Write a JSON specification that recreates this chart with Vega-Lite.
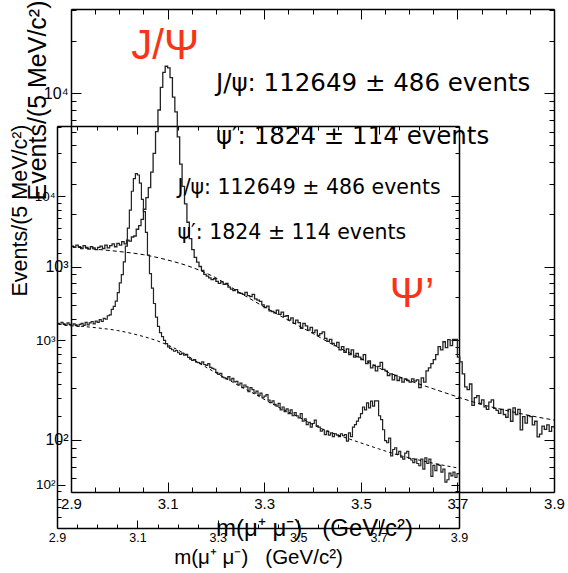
{
"$schema": "https://vega.github.io/schema/vega-lite/v6.json",
"width": 568, "height": 573, "autosize": "none", "padding": 0, "background": "white",
"config": {"view": {"stroke": null}, "axis": {"grid": false, "labelFont": "Liberation Sans", "titleFont": "Liberation Sans", "labelColor": "#000", "titleColor": "#000", "titleFontWeight": "normal", "domainColor": "#000", "tickColor": "#000", "labelFlush": false, "labelOverlap": false, "labelBound": false}},
"datasets": {
"h": [{"m":2.9,"n":1310},{"m":2.905,"n":1290},{"m":2.91,"n":1330},{"m":2.915,"n":1300},{"m":2.92,"n":1270},{"m":2.925,"n":1320},{"m":2.93,"n":1290},{"m":2.935,"n":1260},{"m":2.94,"n":1300},{"m":2.945,"n":1280},{"m":2.95,"n":1250},{"m":2.955,"n":1290},{"m":2.96,"n":1310},{"m":2.965,"n":1270},{"m":2.97,"n":1330},{"m":2.975,"n":1280},{"m":2.98,"n":1320},{"m":2.985,"n":1350},{"m":2.99,"n":1300},{"m":2.995,"n":1360},{"m":3.0,"n":1330},{"m":3.005,"n":1390},{"m":3.01,"n":1350},{"m":3.015,"n":1420},{"m":3.02,"n":1400},{"m":3.025,"n":1480},{"m":3.03,"n":1500},{"m":3.035,"n":1640},{"m":3.04,"n":1720},{"m":3.045,"n":1870},{"m":3.05,"n":2140},{"m":3.055,"n":2500},{"m":3.06,"n":2850},{"m":3.065,"n":3500},{"m":3.07,"n":4500},{"m":3.075,"n":6000},{"m":3.08,"n":8000},{"m":3.085,"n":10800},{"m":3.09,"n":13200},{"m":3.095,"n":14300},{"m":3.1,"n":14000},{"m":3.105,"n":12300},{"m":3.11,"n":9500},{"m":3.115,"n":7800},{"m":3.12,"n":5600},{"m":3.125,"n":3900},{"m":3.13,"n":2900},{"m":3.135,"n":2300},{"m":3.14,"n":1800},{"m":3.145,"n":1450},{"m":3.15,"n":1250},{"m":3.155,"n":1130},{"m":3.16,"n":1060},{"m":3.165,"n":1000},{"m":3.17,"n":950},{"m":3.175,"n":900},{"m":3.18,"n":880},{"m":3.185,"n":860},{"m":3.19,"n":840},{"m":3.195,"n":850},{"m":3.2,"n":820},{"m":3.205,"n":800},{"m":3.21,"n":815},{"m":3.215,"n":790},{"m":3.22,"n":800},{"m":3.225,"n":760},{"m":3.23,"n":740},{"m":3.235,"n":725},{"m":3.24,"n":735},{"m":3.245,"n":705},{"m":3.25,"n":700},{"m":3.255,"n":690},{"m":3.26,"n":710},{"m":3.265,"n":680},{"m":3.27,"n":670},{"m":3.275,"n":690},{"m":3.28,"n":650},{"m":3.285,"n":640},{"m":3.29,"n":630},{"m":3.295,"n":600},{"m":3.3,"n":580},{"m":3.305,"n":590},{"m":3.31,"n":555},{"m":3.315,"n":550},{"m":3.32,"n":540},{"m":3.325,"n":560},{"m":3.33,"n":530},{"m":3.335,"n":545},{"m":3.34,"n":515},{"m":3.345,"n":520},{"m":3.35,"n":490},{"m":3.355,"n":505},{"m":3.36,"n":470},{"m":3.365,"n":490},{"m":3.37,"n":475},{"m":3.375,"n":440},{"m":3.38,"n":470},{"m":3.385,"n":455},{"m":3.39,"n":430},{"m":3.395,"n":445},{"m":3.4,"n":415},{"m":3.405,"n":430},{"m":3.41,"n":400},{"m":3.415,"n":410},{"m":3.42,"n":420},{"m":3.425,"n":385},{"m":3.43,"n":370},{"m":3.435,"n":380},{"m":3.44,"n":360},{"m":3.445,"n":350},{"m":3.45,"n":365},{"m":3.455,"n":330},{"m":3.46,"n":345},{"m":3.465,"n":320},{"m":3.47,"n":335},{"m":3.475,"n":310},{"m":3.48,"n":330},{"m":3.485,"n":300},{"m":3.49,"n":315},{"m":3.495,"n":300},{"m":3.5,"n":290},{"m":3.505,"n":310},{"m":3.51,"n":275},{"m":3.515,"n":285},{"m":3.52,"n":260},{"m":3.525,"n":270},{"m":3.53,"n":250},{"m":3.535,"n":265},{"m":3.54,"n":280},{"m":3.545,"n":255},{"m":3.55,"n":250},{"m":3.555,"n":235},{"m":3.56,"n":240},{"m":3.565,"n":222},{"m":3.57,"n":235},{"m":3.575,"n":220},{"m":3.58,"n":228},{"m":3.585,"n":215},{"m":3.59,"n":225},{"m":3.595,"n":220},{"m":3.6,"n":215},{"m":3.605,"n":225},{"m":3.61,"n":218},{"m":3.615,"n":222},{"m":3.62,"n":200},{"m":3.625,"n":228},{"m":3.63,"n":215},{"m":3.635,"n":250},{"m":3.64,"n":260},{"m":3.645,"n":275},{"m":3.65,"n":290},{"m":3.655,"n":310},{"m":3.66,"n":345},{"m":3.665,"n":330},{"m":3.67,"n":368},{"m":3.675,"n":340},{"m":3.68,"n":379},{"m":3.685,"n":350},{"m":3.69,"n":380},{"m":3.695,"n":380},{"m":3.7,"n":300},{"m":3.705,"n":282},{"m":3.71,"n":240},{"m":3.715,"n":202},{"m":3.72,"n":195},{"m":3.725,"n":210},{"m":3.73,"n":158},{"m":3.735,"n":175},{"m":3.74,"n":180},{"m":3.745,"n":162},{"m":3.75,"n":170},{"m":3.755,"n":155},{"m":3.76,"n":150},{"m":3.765,"n":165},{"m":3.77,"n":170},{"m":3.775,"n":152},{"m":3.78,"n":148},{"m":3.785,"n":142},{"m":3.79,"n":150},{"m":3.795,"n":140},{"m":3.8,"n":135},{"m":3.805,"n":150},{"m":3.81,"n":128},{"m":3.815,"n":153},{"m":3.82,"n":140},{"m":3.825,"n":150},{"m":3.83,"n":114},{"m":3.835,"n":136},{"m":3.84,"n":125},{"m":3.845,"n":138},{"m":3.85,"n":136},{"m":3.855,"n":122},{"m":3.86,"n":128},{"m":3.865,"n":104},{"m":3.87,"n":108},{"m":3.875,"n":120},{"m":3.88,"n":115},{"m":3.885,"n":122},{"m":3.89,"n":112},{"m":3.895,"n":119},{"m":3.9,"n":119}],
"bg": [{"m":2.9,"n":1306},{"m":2.95,"n":1260},{"m":3.0,"n":1220},{"m":3.05,"n":1170},{"m":3.1,"n":1090},{"m":3.15,"n":990},{"m":3.2,"n":860},{"m":3.25,"n":705},{"m":3.3,"n":585},{"m":3.35,"n":490},{"m":3.4,"n":412},{"m":3.45,"n":345},{"m":3.5,"n":295},{"m":3.55,"n":250},{"m":3.6,"n":220},{"m":3.65,"n":197},{"m":3.7,"n":177},{"m":3.75,"n":160},{"m":3.8,"n":148},{"m":3.85,"n":138},{"m":3.9,"n":130}],
"txt": [{"m":3.2,"n":11300,"t":"J/ψ: 112649 ± 486 events"},{"m":3.2,"n":5570,"t":"ψ′: 1824 ± 114 events"}],
"red": [{"m":3.095,"n":18600,"t":"J/Ψ"},{"m":3.606,"n":690,"t":"Ψ’"}]
},
"layer": [
{
"layer": [
{"data": {"name": "h"}, "mark": {"type": "line", "interpolate": "step-after", "color": "#222", "strokeWidth": 1.3},
 "encoding": {
  "x": {"field": "m", "type": "quantitative", "scale": {"domain": [2.9, 3.9], "range": [71, 554], "nice": false, "zero": false},
   "axis": {"orient": "bottom", "offset": -81, "values": [2.9,2.95,3.0,3.05,3.1,3.15,3.2,3.25,3.3,3.35,3.4,3.45,3.5,3.55,3.6,3.65,3.7,3.75,3.8,3.85,3.9],
    "labelExpr": "(round(datum.value*100)-290)%20==0 ? format(datum.value,'.1f') : ''",
    "tickSize": {"condition": {"test": "(round(datum.value*100)-290)%20==0", "value": -10}, "value": -5},
    "labelPadding": 14, "labelFontSize": 15, "domainWidth": 1.5, "tickWidth": 1,
    "title": "m(μ⁺ μ⁻)\u00a0\u00a0\u00a0(GeV/c²)", "titleFontSize": 24, "titleX": 314, "titleY": 36, "titleBaseline": "middle"}},
  "y": {"field": "n", "type": "quantitative", "scale": {"type": "log", "domain": [50, 30600], "range": [492, 9], "nice": false},
   "axis": {"orient": "left", "offset": -71, "values": [60,70,80,90,100,200,300,400,500,600,700,800,900,1000,2000,3000,4000,5000,6000,7000,8000,9000,10000,20000,30000],
    "labelExpr": "datum.value==100 ? '10²' : datum.value==1000 ? '10³' : datum.value==10000 ? '10⁴' : ''",
    "tickSize": {"condition": {"test": "datum.value==100||datum.value==1000||datum.value==10000", "value": -10}, "value": -5},
    "labelPadding": 13, "labelFontSize": 16, "domainWidth": 1.5, "tickWidth": 1,
    "title": "Events/(5 MeV/c²)", "titleFontSize": 25, "titleX": -34, "titleY": 100, "titleBaseline": "middle", "titleAlign": "center", "titleAngle": -90}}
 }},
{"data": {"name": "bg"}, "mark": {"type": "line", "interpolate": "monotone", "color": "#000", "strokeWidth": 1, "strokeDash": [4, 3]},
 "encoding": {
  "x": {"field": "m", "type": "quantitative",
   "axis": {"orient": "top", "offset": -9, "values": [2.9,2.95,3.0,3.05,3.1,3.15,3.2,3.25,3.3,3.35,3.4,3.45,3.5,3.55,3.6,3.65,3.7,3.75,3.8,3.85,3.9], "labels": false, "title": null, "domainWidth": 1.5,
    "tickSize": {"condition": {"test": "(round(datum.value*100)-290)%20==0", "value": -10}, "value": -5}}},
  "y": {"field": "n", "type": "quantitative",
   "axis": {"orient": "right", "offset": -14, "values": [60,70,80,90,100,200,300,400,500,600,700,800,900,1000,2000,3000,4000,5000,6000,7000,8000,9000,10000,20000,30000], "labels": false, "title": null, "domainWidth": 1.5,
    "tickSize": {"condition": {"test": "datum.value==100||datum.value==1000||datum.value==10000", "value": -10}, "value": -5}}}
 }},
{"data": {"name": "txt"}, "mark": {"type": "text", "align": "left", "baseline": "middle", "fontSize": 24.5, "font": "DejaVu Sans", "color": "#000"},
 "encoding": {"x": {"field": "m", "type": "quantitative", "axis": null}, "y": {"field": "n", "type": "quantitative", "axis": null}, "text": {"field": "t"}}},
{"data": {"name": "red"}, "mark": {"type": "text", "align": "center", "baseline": "middle", "fontSize": 42, "font": "Liberation Sans", "color": "#f93414"},
 "encoding": {"x": {"field": "m", "type": "quantitative", "axis": null}, "y": {"field": "n", "type": "quantitative", "axis": null}, "text": {"field": "t"}}}
],
"resolve": {"axis": {"x": "independent", "y": "independent"}}
},
{
"layer": [
{"data": {"name": "h"}, "mark": {"type": "line", "interpolate": "step-after", "color": "#222", "strokeWidth": 1.2},
 "encoding": {
  "x": {"field": "m", "type": "quantitative", "scale": {"domain": [2.9, 3.9], "range": [57, 459], "nice": false, "zero": false},
   "axis": {"orient": "bottom", "offset": -45, "values": [2.9,2.95,3.0,3.05,3.1,3.15,3.2,3.25,3.3,3.35,3.4,3.45,3.5,3.55,3.6,3.65,3.7,3.75,3.8,3.85,3.9],
    "labelExpr": "(round(datum.value*100)-290)%20==0 ? format(datum.value,'.1f') : ''",
    "tickSize": {"condition": {"test": "(round(datum.value*100)-290)%20==0", "value": -8}, "value": -4},
    "labelPadding": 11, "labelFontSize": 12.5, "domainWidth": 1.5, "tickWidth": 1,
    "title": "m(μ⁺ μ⁻)\u00a0\u00a0\u00a0(GeV/c²)", "titleFontSize": 20.5, "titleX": 258, "titleY": 29, "titleBaseline": "middle"}},
  "y": {"field": "n", "type": "quantitative", "scale": {"type": "log", "domain": [50, 30600], "range": [528, 126], "nice": false},
   "axis": {"orient": "left", "offset": -57, "values": [60,70,80,90,100,200,300,400,500,600,700,800,900,1000,2000,3000,4000,5000,6000,7000,8000,9000,10000,20000,30000],
    "labelExpr": "datum.value==100 ? '10²' : datum.value==1000 ? '10³' : datum.value==10000 ? '10⁴' : ''",
    "tickSize": {"condition": {"test": "datum.value==100||datum.value==1000||datum.value==10000", "value": -8}, "value": -4},
    "labelPadding": 10, "labelFontSize": 13.5, "domainWidth": 1.5, "tickWidth": 1,
    "title": "Events/(5 MeV/c²)", "titleFontSize": 21.5, "titleX": -37, "titleY": 210, "titleBaseline": "middle", "titleAlign": "center", "titleAngle": -90}}
 }},
{"data": {"name": "bg"}, "mark": {"type": "line", "interpolate": "monotone", "color": "#000", "strokeWidth": 1, "strokeDash": [3, 3]},
 "encoding": {
  "x": {"field": "m", "type": "quantitative",
   "axis": {"orient": "top", "offset": -126, "values": [2.9,2.95,3.0,3.05,3.1,3.15,3.2,3.25,3.3,3.35,3.4,3.45,3.5,3.55,3.6,3.65,3.7,3.75,3.8,3.85,3.9], "labels": false, "title": null, "domainWidth": 1.5,
    "tickSize": {"condition": {"test": "(round(datum.value*100)-290)%20==0", "value": -8}, "value": -4}}},
  "y": {"field": "n", "type": "quantitative",
   "axis": {"orient": "right", "offset": -109, "values": [60,70,80,90,100,200,300,400,500,600,700,800,900,1000,2000,3000,4000,5000,6000,7000,8000,9000,10000,20000,30000], "labels": false, "title": null, "domainWidth": 1.5,
    "tickSize": {"condition": {"test": "datum.value==100||datum.value==1000||datum.value==10000", "value": -8}, "value": -4}}}
 }},
{"data": {"name": "txt"}, "mark": {"type": "text", "align": "left", "baseline": "middle", "fontSize": 20.5, "font": "DejaVu Sans", "color": "#000"},
 "encoding": {"x": {"field": "m", "type": "quantitative", "axis": null}, "y": {"field": "n", "type": "quantitative", "axis": null}, "text": {"field": "t"}}}
],
"resolve": {"axis": {"x": "independent", "y": "independent"}}
}
],
"resolve": {"scale": {"x": "independent", "y": "independent"}, "axis": {"x": "independent", "y": "independent"}}
}
